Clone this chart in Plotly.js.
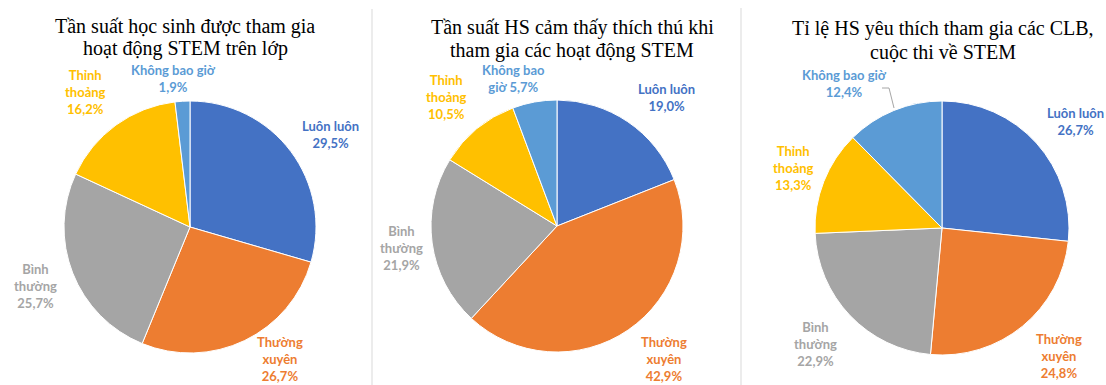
<!DOCTYPE html>
<html><head><meta charset="utf-8">
<script src="https://cdn.plot.ly/plotly-3.0.1.min.js"></script>
<style>html,body{margin:0;padding:0;background:#fff}#chart{width:1106px;height:385px}</style>
</head><body><div id="chart"></div>
<script>
// Data
const categories = ["Luôn luôn", "Thường xuyên", "Bình thường", "Thỉnh thoảng", "Không bao giờ"];
const values1 = [29.5, 26.7, 25.7, 16.2, 1.9];
const values2 = [19.0, 42.9, 21.9, 10.5, 5.7];
const values3 = [26.7, 24.8, 22.9, 13.3, 12.4];
const titles = [
  ["Tần suất học sinh được tham gia", "hoạt động STEM trên lớp"],
  ["Tần suất HS cảm thấy thích thú khi", "tham gia các hoạt động STEM"],
  ["Tỉ lệ HS yêu thích tham gia các CLB,", "cuộc thi về STEM"]
];
// label wrapping per chart (display text of category names)
const labelText1 = ["Luôn luôn", "Thường<br>xuyên", "Bình<br>thường", "Thỉnh<br>thoảng", "Không bao giờ"];
const labelText2 = ["Luôn luôn", "Thường<br>xuyên", "Bình<br>thường", "Thỉnh<br>thoảng", "Không bao<br>giờ"];
const labelText3 = ["Luôn luôn", "Thường<br>xuyên", "Bình<br>thường", "Thỉnh<br>thoảng", "Không bao giờ"];
const valueSep2 = ["<br>", "<br>", "<br>", "<br>", " "];

// Styles / layout positions
const colors = ["#4472C4", "#ED7D31", "#A5A5A5", "#FFC000", "#5B9BD5"];
const W = 1106, H = 385;
const pies = [
  {cx: 190, cy: 227, r: 126},
  {cx: 557, cy: 226, r: 126},
  {cx: 942, cy: 228, r: 127}
];
const labelPos = [
  [[330,134],[280,359],[35,286],[85,92],[173,79]],
  [[666,98],[664,359],[401,248],[446,97],[513,78]],
  [[1075,121],[1059,356],[815,344],[793,168],[844,84]]
];
const titlePos = [[185, 26, 49], [572, 27, 50], [943, 28, 52]];

const allValues = [values1, values2, values3];
const allText = [labelText1, labelText2, labelText3];
const fmt = v => v.toFixed(1).replace(".", ",") + "%";

const data = allValues.map((vals, i) => {
  const p = pies[i];
  return {
    type: "pie",
    labels: categories,
    values: vals,
    sort: false,
    direction: "clockwise",
    rotation: 0,
    textinfo: "none",
    hoverinfo: "label+percent",
    marker: {colors: colors, line: {color: "#ffffff", width: 1}},
    domain: {
      x: [(p.cx - p.r) / W, (p.cx + p.r) / W],
      y: [(H - p.cy - p.r) / H, (H - p.cy + p.r) / H]
    },
    showlegend: false
  };
});

const annotations = [];
allValues.forEach((vals, i) => {
  vals.forEach((v, j) => {
    const sep = i === 1 ? valueSep2[j] : "<br>";
    const [px, py] = labelPos[i][j];
    annotations.push({
      xref: "paper", yref: "paper",
      x: px / W, y: 1 - py / H,
      xanchor: "center", yanchor: "middle",
      showarrow: false,
      align: "center",
      text: "<b>" + allText[i][j] + sep + fmt(v) + "</b>",
      font: {family: "Lato, 'Liberation Sans', sans-serif", size: 13, color: colors[j]}
    });
  });
  const [tx, ty1, ty2] = titlePos[i];
  [ty1, ty2].forEach((ty, k) => {
    annotations.push({
      xref: "paper", yref: "paper",
      x: tx / W, y: 1 - ty / H,
      xanchor: "center", yanchor: "middle",
      showarrow: false,
      text: titles[i][k],
      font: {family: "'Liberation Serif', 'Times New Roman', serif", size: 20, color: "#000000"}
    });
  });
});

const shapes = [
  {type: "line", xref: "paper", yref: "paper", x0: 372 / W, x1: 372 / W, y0: 0, y1: 1 - 9 / H, line: {color: "#d9d9d9", width: 1}},
  {type: "line", xref: "paper", yref: "paper", x0: 741 / W, x1: 741 / W, y0: 0, y1: 1 - 8 / H, line: {color: "#d9d9d9", width: 1}},
  {type: "path", xref: "paper", yref: "paper",
   path: `M ${882/W} ${1-88/H} L ${889/W} ${1-88/H} L ${894/W} ${1-108/H}`,
   line: {color: "#a6a6a6", width: 1}}
];

const layout = {
  width: W, height: H,
  margin: {l: 0, r: 0, t: 0, b: 0},
  paper_bgcolor: "#ffffff",
  annotations: annotations,
  shapes: shapes
};

Plotly.newPlot("chart", data, layout, {displayModeBar: false, staticPlot: true});
</script></body></html>
